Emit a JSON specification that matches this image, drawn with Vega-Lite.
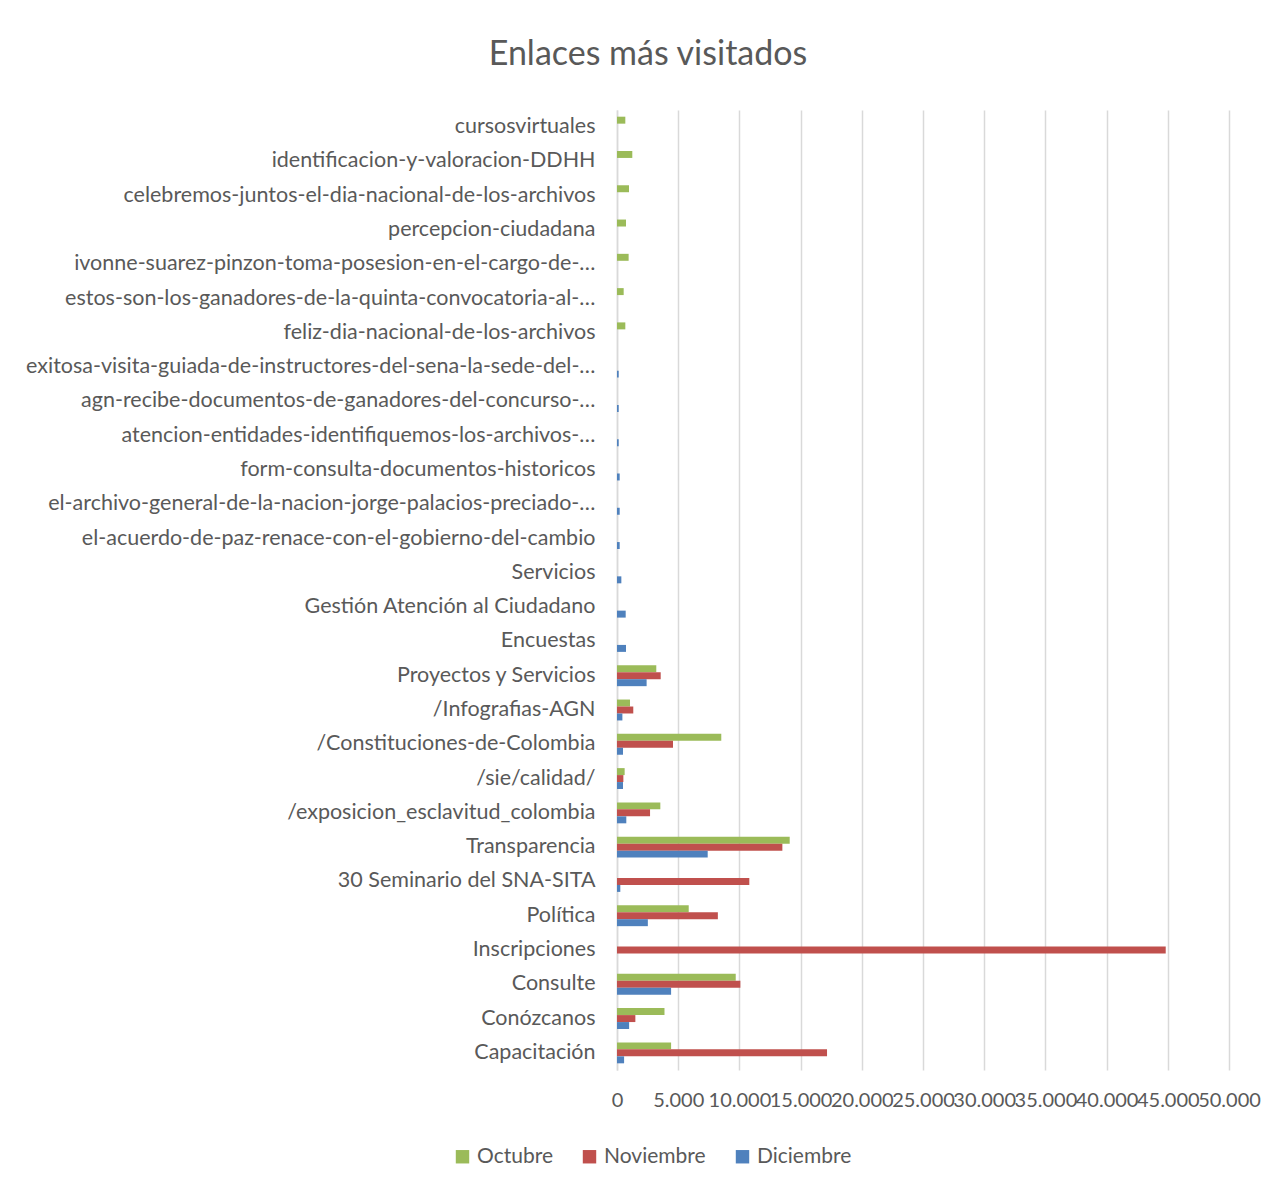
{
  "$schema": "https://vega.github.io/schema/vega-lite/v6.json",
  "autosize": {"type": "none"},
  "width": 612,
  "height": 960,
  "padding": {"left": 617, "top": 110, "right": 57, "bottom": 114},
  "background": "white",
  "config": {
    "font": "Lato",
    "view": {"stroke": null}
  },
  "title": {
    "text": "Enlaces más visitados",
    "fontSize": 34,
    "fontWeight": "normal",
    "color": "#595959",
    "font": "Lato",
    "anchor": "middle",
    "frame": "group",
    "dx": -275,
    "offset": 38
  },
  "data": {
    "values": [
      {"enlace": "cursosvirtuales", "mes": "Octubre", "visitas": 680},
      {"enlace": "identificacion-y-valoracion-DDHH", "mes": "Octubre", "visitas": 1250},
      {"enlace": "celebremos-juntos-el-dia-nacional-de-los-archivos", "mes": "Octubre", "visitas": 980},
      {"enlace": "percepcion-ciudadana", "mes": "Octubre", "visitas": 735},
      {"enlace": "ivonne-suarez-pinzon-toma-posesion-en-el-cargo-de-…", "mes": "Octubre", "visitas": 950},
      {"enlace": "estos-son-los-ganadores-de-la-quinta-convocatoria-al-…", "mes": "Octubre", "visitas": 545},
      {"enlace": "feliz-dia-nacional-de-los-archivos", "mes": "Octubre", "visitas": 680},
      {"enlace": "exitosa-visita-guiada-de-instructores-del-sena-la-sede-del-…", "mes": "Diciembre", "visitas": 140},
      {"enlace": "agn-recibe-documentos-de-ganadores-del-concurso-…", "mes": "Diciembre", "visitas": 140},
      {"enlace": "atencion-entidades-identifiquemos-los-archivos-…", "mes": "Diciembre", "visitas": 140},
      {"enlace": "form-consulta-documentos-historicos", "mes": "Diciembre", "visitas": 220},
      {"enlace": "el-archivo-general-de-la-nacion-jorge-palacios-preciado-…", "mes": "Diciembre", "visitas": 220},
      {"enlace": "el-acuerdo-de-paz-renace-con-el-gobierno-del-cambio", "mes": "Diciembre", "visitas": 220},
      {"enlace": "Servicios ", "mes": "Diciembre", "visitas": 355},
      {"enlace": "Gestión Atención al Ciudadano", "mes": "Diciembre", "visitas": 710},
      {"enlace": "Encuestas", "mes": "Diciembre", "visitas": 735},
      {"enlace": "Proyectos y Servicios", "mes": "Octubre", "visitas": 3210},
      {"enlace": "Proyectos y Servicios", "mes": "Noviembre", "visitas": 3570},
      {"enlace": "Proyectos y Servicios", "mes": "Diciembre", "visitas": 2420},
      {"enlace": "/Infografias-AGN", "mes": "Octubre", "visitas": 1060},
      {"enlace": "/Infografias-AGN", "mes": "Noviembre", "visitas": 1330},
      {"enlace": "/Infografias-AGN", "mes": "Diciembre", "visitas": 440},
      {"enlace": "/Constituciones-de-Colombia", "mes": "Octubre", "visitas": 8520},
      {"enlace": "/Constituciones-de-Colombia", "mes": "Noviembre", "visitas": 4575},
      {"enlace": "/Constituciones-de-Colombia", "mes": "Diciembre", "visitas": 490},
      {"enlace": "/sie/calidad/", "mes": "Octubre", "visitas": 625},
      {"enlace": "/sie/calidad/", "mes": "Noviembre", "visitas": 520},
      {"enlace": "/sie/calidad/", "mes": "Diciembre", "visitas": 490},
      {"enlace": "/exposicion_esclavitud_colombia", "mes": "Octubre", "visitas": 3540},
      {"enlace": "/exposicion_esclavitud_colombia", "mes": "Noviembre", "visitas": 2700},
      {"enlace": "/exposicion_esclavitud_colombia", "mes": "Diciembre", "visitas": 760},
      {"enlace": "Transparencia", "mes": "Octubre", "visitas": 14110},
      {"enlace": "Transparencia", "mes": "Noviembre", "visitas": 13510},
      {"enlace": "Transparencia", "mes": "Diciembre", "visitas": 7410},
      {"enlace": "30 Seminario del SNA-SITA", "mes": "Noviembre", "visitas": 10810},
      {"enlace": "30 Seminario del SNA-SITA", "mes": "Diciembre", "visitas": 270},
      {"enlace": "Política", "mes": "Octubre", "visitas": 5860},
      {"enlace": "Política", "mes": "Noviembre", "visitas": 8240},
      {"enlace": "Política", "mes": "Diciembre", "visitas": 2520},
      {"enlace": "Inscripciones", "mes": "Noviembre", "visitas": 44830},
      {"enlace": "Consulte", "mes": "Octubre", "visitas": 9700},
      {"enlace": "Consulte", "mes": "Noviembre", "visitas": 10080},
      {"enlace": "Consulte", "mes": "Diciembre", "visitas": 4420},
      {"enlace": "Conózcanos", "mes": "Octubre", "visitas": 3880},
      {"enlace": "Conózcanos", "mes": "Noviembre", "visitas": 1500},
      {"enlace": "Conózcanos", "mes": "Diciembre", "visitas": 990},
      {"enlace": "Capacitación", "mes": "Octubre", "visitas": 4420},
      {"enlace": "Capacitación", "mes": "Noviembre", "visitas": 17160},
      {"enlace": "Capacitación", "mes": "Diciembre", "visitas": 580}
    ]
  },
  "mark": {"type": "bar"},
  "encoding": {
    "y": {
      "field": "enlace",
      "type": "nominal",
      "sort": null,
      "scale": {"paddingInner": 0.39, "paddingOuter": 0.195},
      "axis": {
        "title": null,
        "ticks": false,
        "domainColor": "#d9d9d9",
        "domainWidth": 1.5,
        "labelFontSize": 21.5,
        "labelColor": "#595959",
        "labelPadding": 22,
        "labelLimit": 700,
        "labelFont": "Lato"
      }
    },
    "yOffset": {
      "field": "mes",
      "type": "nominal",
      "sort": ["Octubre", "Noviembre", "Diciembre"],
      "scale": {"domain": ["Octubre", "Noviembre", "Diciembre"], "paddingInner": 0, "paddingOuter": 0}
    },
    "x": {
      "field": "visitas",
      "type": "quantitative",
      "scale": {"domain": [0, 50000], "nice": false},
      "axis": {
        "title": null,
        "values": [0, 5000, 10000, 15000, 20000, 25000, 30000, 35000, 40000, 45000, 50000],
        "labelExpr": "replace(format(datum.value, ','), ',', '.')",
        "ticks": false,
        "domain": false,
        "gridColor": "#d9d9d9",
        "gridWidth": 1.5,
        "labelFontSize": 20,
        "labelColor": "#595959",
        "labelPadding": 20,
        "labelOverlap": false,
        "labelFlush": false,
        "labelBound": false,
        "labelFont": "Lato"
      }
    },
    "color": {
      "field": "mes",
      "type": "nominal",
      "scale": {"domain": ["Octubre", "Noviembre", "Diciembre"], "range": ["#9BBB59", "#C0504D", "#4F81BD"]},
      "legend": {
        "title": null,
        "orient": "none",
        "direction": "horizontal",
        "legendX": -165,
        "legendY": 1036,
        "symbolType": "square",
        "symbolSize": 180,
        "symbolStrokeWidth": 0,
        "labelFontSize": 21,
        "labelColor": "#595959",
        "labelFont": "Lato",
        "columnPadding": 26,
        "labelOffset": 4
      }
    }
  }
}
